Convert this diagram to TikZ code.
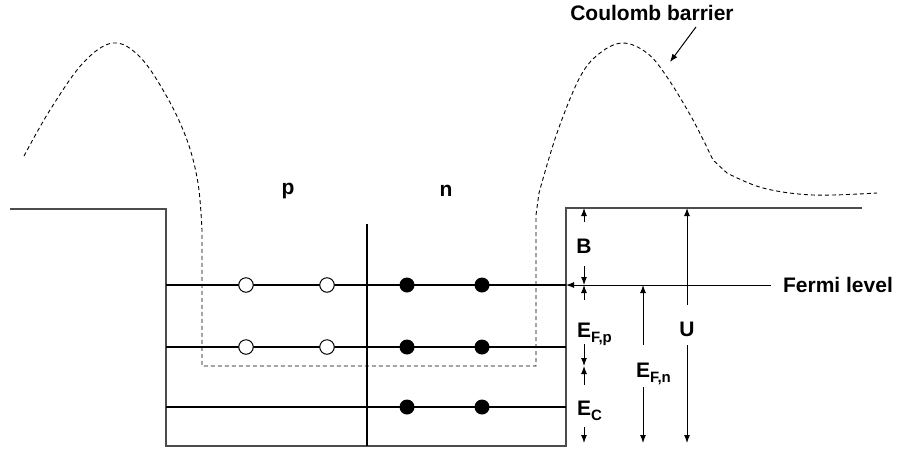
\documentclass[tikz,border=0pt]{standalone}
\usepackage{fontspec}
\setmainfont{Liberation Sans}
\usetikzlibrary{arrows.meta}

\newcommand{\lowidx}[1]{\rlap{\raisebox{-5pt}[0pt][0pt]{\fontsize{15}{15}\selectfont #1}}}

\begin{document}
\begin{tikzpicture}[x=1pt, y=-1pt, >={Latex[length=8pt,width=6pt]}]
    % Styles
    \tikzstyle{lbl}=[font=\fontsize{21}{24}\selectfont\bfseries, inner sep=2pt]
    \tikzstyle{well}=[line width=1.6pt, draw=black!70]
    \tikzstyle{level}=[line width=1.1pt]
    \tikzstyle{barrier}=[line width=0.9pt, dash pattern=on 4pt off 3pt]
    \tikzstyle{hole}=[circle, draw=black, line width=1pt, fill=white, minimum size=14.5pt, inner sep=0pt]
    \tikzstyle{elec}=[circle, fill=black, minimum size=15pt, inner sep=0pt]
    \tikzstyle{arrow}=[->, line width=1pt]

    \useasboundingbox (0,0) rectangle (910,451);

    % Potential well
    \draw[well] (10,209) -- (166,209) -- (166,446) -- (566,446) -- (566,208) -- (862,208);

    % Coulomb barrier
    \draw[barrier] plot[smooth, tension=0.6] coordinates {(24,156) (50,110) (83,63) (113,43) (140,57) (167,97) (187,140) (198,183) (202,230)}
        -- (202,366) -- (536,366) -- (536,215)
        -- plot[smooth, tension=0.6] coordinates {(539,193) (557,133) (580,77) (600,53) (623,43) (647,53) (667,77) (693,120) (713,160)}
        -- plot[smooth, tension=0.6] coordinates {(727,173) (763,188) (813,195) (877,193)};

    % Levels
    \coordinate (l1w) at (166,285); \coordinate (l1e) at (566,285);
    \coordinate (l2w) at (166,347); \coordinate (l2e) at (566,347);
    \coordinate (l3w) at (166,407); \coordinate (l3e) at (566,407);
    \coordinate (midt) at (367,224); \coordinate (midb) at (367,446);
    \draw[level] (l1w) -- (l1e);
    \draw[level] (l2w) -- (l2e);
    \draw[level] (l3w) -- (l3e);
    \draw[level] (midt) -- (midb);

    % Holes and electrons
    \node (h1) [hole] at (246,285) {};
    \node (h2) [hole] at (327,285) {};
    \node (h3) [hole] at (246,347) {};
    \node (h4) [hole] at (327,347) {};
    \node (e1) [elec] at (407,285) {};
    \node (e2) [elec] at (482,285) {};
    \node (e3) [elec] at (407,347) {};
    \node (e4) [elec] at (482,347) {};
    \node (e5) [elec] at (407,407) {};
    \node (e6) [elec] at (482,407) {};

    % Region labels
    \node (p) [lbl] at (288,191) {p};
    \node (n) [lbl] at (446,191) {n};
    \node (cb) [lbl] at (652,13) {Coulomb barrier};
    \coordinate (cbt) at (670,62);
    \draw [arrow] ([xshift=44pt,yshift=-4pt]cb.south) -- (cbt);
    \node (fermi) [lbl, inner xsep=12pt] at (838,285) {Fermi level};
    \draw [arrow] (fermi) -- (l1e);

    % Energy scales
    \coordinate (bt) at (584,208);
    \coordinate (bf) at (584,285);
    \coordinate (bd) at (584,366);
    \coordinate (bb) at (584,443);
    \coordinate (nf) at (643,285);
    \coordinate (nb) at (643,443);
    \coordinate (ut) at (687,208);
    \coordinate (ub) at (687,443);

    \node (B) [lbl, text height=29pt, text depth=11pt, anchor=base] at (584,253) {B};
    \node (Efp) [lbl, text height=35pt, text depth=5pt, anchor=base] at (584,337) {E\lowidx{F,p}};
    \node (Ec) [lbl, text height=28pt, text depth=10pt, anchor=base] at (584,415) {E\lowidx{C}};
    \node (Efn) [lbl, text height=30pt, text depth=8pt, anchor=base] at (643,377) {E\lowidx{F,n}};
    \node (U) [lbl, text height=29pt, text depth=7pt, anchor=base] at (687,336) {U};

    \draw [arrow] (B) -- (bt);
    \draw [arrow] (B) -- (bf);
    \draw [arrow] (Efp) -- (bf);
    \draw [arrow] (Efp) -- (bd);
    \draw [arrow] (Ec) -- (bd);
    \draw [arrow] (Ec) -- (bb);
    \draw [arrow] (Efn) -- (nf);
    \draw [arrow] (Efn) -- (nb);
    \draw [arrow] (U) -- (ut);
    \draw [arrow] (U) -- (ub);

\end{tikzpicture}
\end{document}
